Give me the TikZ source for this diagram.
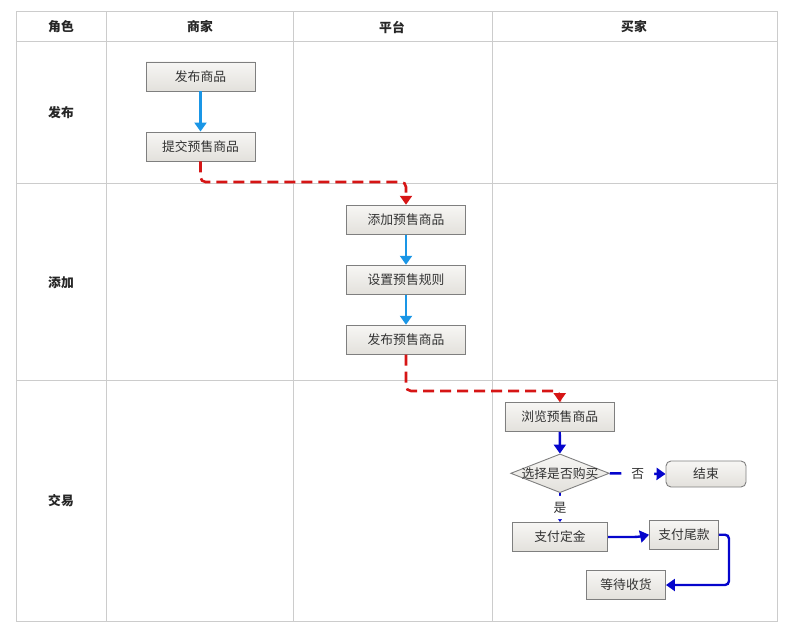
\documentclass[tikz,border=0pt]{standalone}
\usepackage{fontspec}
\setmainfont{Noto Sans CJK SC}
\usetikzlibrary{arrows.meta,shapes.geometric}
\definecolor{gridc}{HTML}{CCCCCC}
\definecolor{boxtop}{HTML}{F7F6F4}
\definecolor{boxbot}{HTML}{E3E1DC}
\definecolor{boxline}{HTML}{7F7F7F}
\definecolor{txt}{HTML}{333333}
\definecolor{lblue}{HTML}{1A96E6}
\definecolor{dblue}{HTML}{0505CC}
\definecolor{dred}{HTML}{D61515}
\begin{document}
\begin{tikzpicture}[x=1pt,y=-1pt,
  every node/.style={font=\fontsize{12.8}{15}\selectfont, text=txt},
  hdr/.style={font=\fontsize{12.8}{15}\selectfont\bfseries, text=black!85},
  stepbox/.style={draw=boxline, line width=0.9pt, top color=boxtop, bottom color=boxbot, minimum height=29pt, inner sep=0pt},
  decide/.style={diamond, draw=boxline, line width=0.9pt, top color=boxtop, bottom color=boxbot, minimum width=98.6pt, minimum height=38.7pt, inner sep=0pt},
  endbox/.style={stepbox, rounded corners=5pt, minimum height=26pt},
  lflow/.style={draw=lblue, line width=2.2pt, -{Triangle[width=12pt,length=9pt]}},
  dflow/.style={draw=dblue, line width=2.4pt, rounded corners=4pt, -{Triangle[width=12pt,length=9pt]}},
  rflow/.style={draw=dred, line width=2.6pt, dash pattern=on 11pt off 6pt, rounded corners=5pt, -{Triangle[width=12pt,length=9pt]}},
  cond/.style={fill=white, inner xsep=4pt, inner ysep=5pt}
]
\useasboundingbox (0,0) rectangle (790,626);
% table grid
\draw[gridc, line width=1pt] (16,12) rectangle (777,621);
\foreach \x in {106,293,492} \draw[gridc, line width=1pt] (\x,12) -- (\x,621);
\foreach \y in {42,183,380} \draw[gridc, line width=1pt] (16,\y) -- (777,\y);
% headers
\node[hdr] (h0) at (61,27) {角色};
\node[hdr] (h1) at (200,27) {商家};
\node[hdr] (h2) at (392,27) {平台};
\node[hdr] (h3) at (634,27) {买家};
\node[hdr] (r1) at (61,113) {发布};
\node[hdr] (r2) at (61,283) {添加};
\node[hdr] (r3) at (61,501) {交易};
% boxes
\node[stepbox, minimum width=109pt] (a1) at (200.5,76.5) {发布商品};
\node[stepbox, minimum width=109pt] (a2) at (200.5,146.5) {提交预售商品};
\node[stepbox, minimum width=119.5pt] (b1) at (406,219.7) {添加预售商品};
\node[stepbox, minimum width=119.5pt] (b2) at (406,279.7) {设置预售规则};
\node[stepbox, minimum width=119.5pt] (b3) at (406,339.7) {发布预售商品};
\node[stepbox, minimum width=109.5pt] (c1) at (559.7,417) {浏览预售商品};
\node[decide, label=center:{选择是否购买}] (c2) at (560,473.3) {};
\node[endbox, minimum width=80pt] (c3) at (706,474) {结束};
\node[stepbox, minimum width=95.5pt] (c4) at (560,537) {支付定金};
\node[stepbox, minimum width=69pt] (c5) at (684,534.7) {支付尾款};
\node[stepbox, minimum width=79pt] (c6) at (626,585) {等待收货};
% connectors
\draw[lflow] (a1) -- (a2);
\draw[lflow] (b1) -- (b2);
\draw[lflow] (b2) -- (b3);
\coordinate (k1) at (201,182);
\coordinate (k2) at (406,391);
\draw[rflow] (a2.south) -- (a2.south |- k1) -- (b1.north |- k1) -- (b1.north);
\draw[rflow] (b3.south) -- (b3.south |- k2) -- (c1.north |- k2) -- (c1.north);
\draw[dflow] (c1) -- (c2);
\draw[dflow] (c2.east) -- node[cond, inner xsep=10pt] {否} (c3.west);
\draw[dflow] (c2.south) -- node[cond, inner ysep=6pt] {是} (c4.north);
\coordinate (k3) at (729,585);
\coordinate (k4) at (638,537);
\draw[dflow] (c4.east) -- (k4) -- (c5.west);
\draw[dflow] (c5.east) -- (c5.east -| k3) -- (k3) -- (c6.east);
\end{tikzpicture}
\end{document}
